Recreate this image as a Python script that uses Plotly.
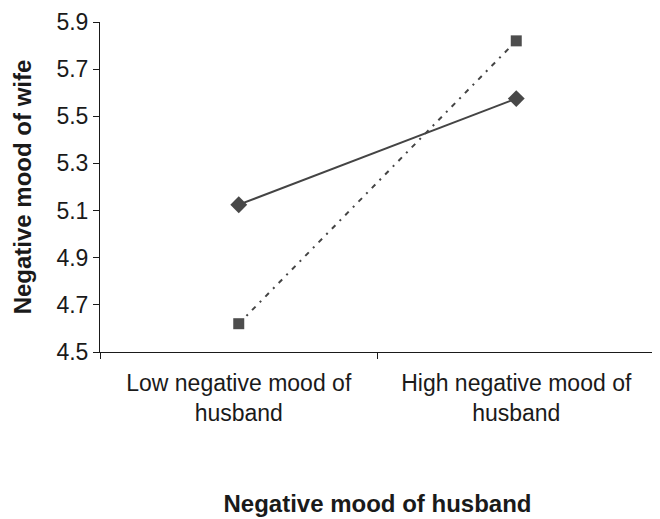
import plotly.graph_objects as go

categories = ["Low negative mood of<br>husband", "High negative mood of<br>husband"]
series_solid = [5.125, 5.575]
series_dotted = [4.62, 5.82]
y_ticks = [4.5, 4.7, 4.9, 5.1, 5.3, 5.5, 5.7, 5.9]

font_family = "Liberation Sans, Arial, sans-serif"
fig = go.Figure()
fig.add_trace(go.Scatter(
    x=categories, y=series_solid, mode="lines+markers",
    line=dict(color="#444444", width=2),
    marker=dict(symbol="diamond", size=13, color="#484848"),
    showlegend=False))
fig.add_trace(go.Scatter(
    x=categories, y=series_dotted, mode="lines+markers",
    line=dict(color="#444444", width=2, dash="5px,6px,2px,6px"),
    marker=dict(symbol="square", size=11, color="#4d4d4d"),
    showlegend=False))

fig.update_layout(
    width=652, height=511,
    margin=dict(l=92, r=5, t=14, b=167),
    plot_bgcolor="white", paper_bgcolor="white",
    font=dict(family=font_family, size=23, color="#1a1a1a"),
    xaxis=dict(
        type="category", range=[-0.5, 1.5], tickson="boundaries",
        automargin=False,
        showline=True, linecolor="#1a1a1a", linewidth=1,
        ticks="outside", ticklen=6, tickcolor="#1a1a1a",
        showgrid=False, zeroline=False,
        tickfont=dict(size=23), ticklabelstandoff=10,
        title=dict(text="<b>Negative mood of husband</b>", font=dict(size=24), standoff=70),
    ),
    yaxis=dict(
        range=[4.5, 5.9], tickvals=y_ticks, tickformat=".1f",
        automargin=False,
        showline=True, linecolor="#1a1a1a", linewidth=1,
        ticks="outside", ticklen=6, tickcolor="#1a1a1a",
        showgrid=False, zeroline=False,
        tickfont=dict(size=23),
        title=dict(text="<b>Negative mood of wife</b>", font=dict(size=24), standoff=18),
    ),
)
fig.write_html("out.html")
